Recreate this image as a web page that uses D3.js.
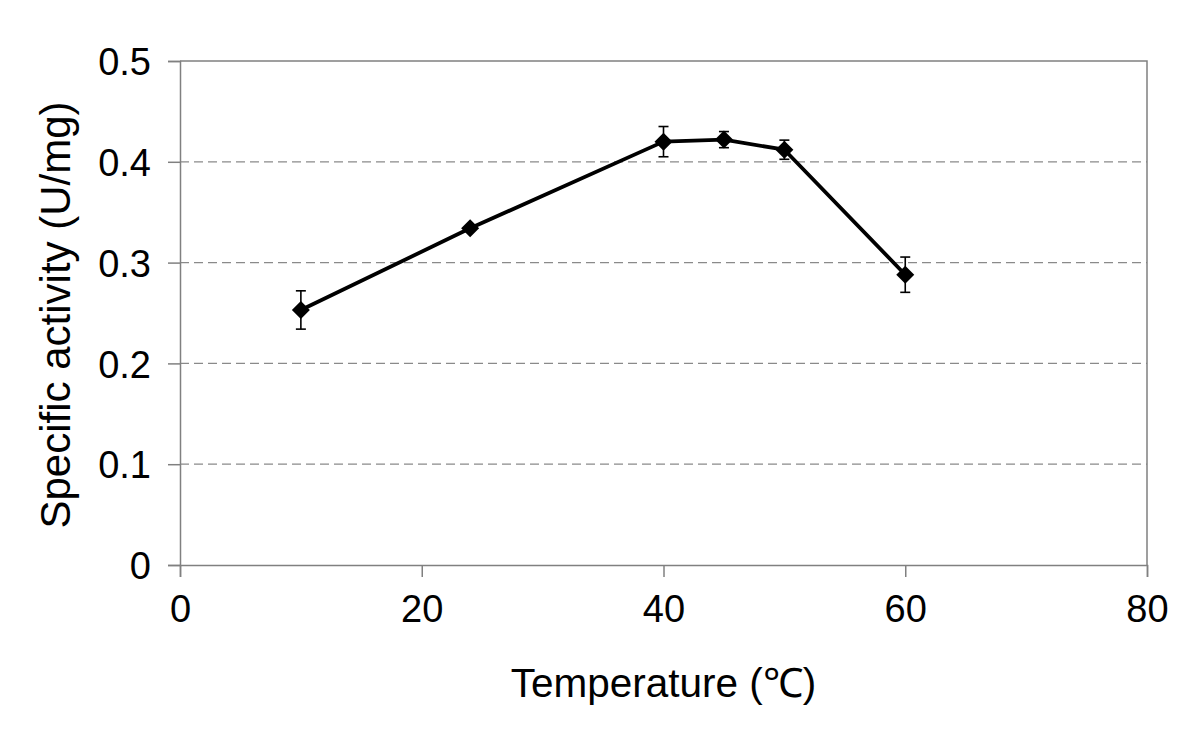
<!DOCTYPE html>
<html>
<head>
<meta charset="utf-8">
<script src="https://cdn.jsdelivr.net/npm/d3@7"></script>
<style>
  body { margin: 0; background: #fff; }
  svg { display: block; font-family: "Liberation Sans", Arial, Helvetica, sans-serif; }
</style>
</head>
<body>
<div class="chart"></div>
<script>
// data
const temps = [10, 24, 40, 45, 50, 60];
const activity = [0.253, 0.334, 0.420, 0.422, 0.412, 0.288];
const errors = [0.019, 0, 0.015, 0.008, 0.0095, 0.0175];
const xTicks = [0, 20, 40, 60, 80];
const yTicks = [0, 0.1, 0.2, 0.3, 0.4, 0.5];

const width = 1200, height = 738;
const margin = {top: 61, right: 53, bottom: 173, left: 180};

const svg = d3.select(".chart")
  .append("svg")
  .attr("width", width)
  .attr("height", height);

const x = d3.scaleLinear().domain([0, 80]).range([margin.left, width - margin.right]);
const y = d3.scaleLinear().domain([0, 0.5]).range([height - margin.bottom, margin.top]);

const data = temps.map((t, i) => ({t: t, v: activity[i], e: errors[i]}));

// dashed gridlines
svg.append("g")
  .selectAll("line")
  .data(yTicks.filter(d => d > 0 && d < 0.5))
  .join("line")
    .attr("x1", x(0)).attr("x2", x(80))
    .attr("y1", d => y(d)).attr("y2", d => y(d))
    .attr("stroke", "#8a8a8a")
    .attr("stroke-width", 1.2)
    .attr("stroke-dasharray", "9,5");

// border top/right
svg.append("path")
  .attr("d", `M${x(0)},${y(0.5)}H${x(80)}V${y(0)}`)
  .attr("fill", "none")
  .attr("stroke", "#808080")
  .attr("stroke-width", 1.5);

// axes
const xAxis = svg.append("g")
  .attr("transform", `translate(0,${y(0)})`)
  .call(d3.axisBottom(x).tickValues(xTicks).tickSize(12).tickPadding(18).tickFormat(d3.format("d")));

const yAxis = svg.append("g")
  .attr("transform", `translate(${x(0)},0)`)
  .call(d3.axisLeft(y).tickValues(yTicks).tickSize(12).tickPadding(17).tickFormat(d => d === 0 ? "0" : d3.format(".1f")(d)));

[xAxis, yAxis].forEach(g => {
  g.select(".domain").attr("stroke", "#808080").attr("stroke-width", 1.5);
  g.selectAll(".tick line").attr("stroke", "#808080").attr("stroke-width", 1.5);
  g.selectAll(".tick text")
    .attr("fill", "#000")
    .style("font-family", "'Liberation Sans', Arial, sans-serif")
    .style("font-size", "38px");
});
xAxis.selectAll(".tick text").attr("dy", "0.71em");
yAxis.selectAll(".tick text").attr("dy", "0.36em");

// error bars
const eb = svg.append("g").attr("stroke", "#000").attr("stroke-width", 1.6);
data.filter(d => d.e > 0).forEach(d => {
  eb.append("line").attr("x1", x(d.t)).attr("x2", x(d.t)).attr("y1", y(d.v - d.e)).attr("y2", y(d.v + d.e));
  eb.append("line").attr("x1", x(d.t) - 5).attr("x2", x(d.t) + 5).attr("y1", y(d.v + d.e)).attr("y2", y(d.v + d.e));
  eb.append("line").attr("x1", x(d.t) - 5).attr("x2", x(d.t) + 5).attr("y1", y(d.v - d.e)).attr("y2", y(d.v - d.e));
});

// line
svg.append("path")
  .datum(data)
  .attr("fill", "none")
  .attr("stroke", "#000")
  .attr("stroke-width", 3.8)
  .attr("stroke-linejoin", "round")
  .attr("d", d3.line().x(d => x(d.t)).y(d => y(d.v)));

// diamond markers
svg.append("g")
  .selectAll("path")
  .data(data)
  .join("path")
    .attr("transform", d => `translate(${x(d.t)},${y(d.v)})`)
    .attr("d", "M0,-9L9,0L0,9L-9,0Z")
    .attr("fill", "#000");

// axis titles
svg.append("text")
  .attr("x", (x(0) + x(80)) / 2)
  .attr("y", 697)
  .attr("text-anchor", "middle")
  .style("font-size", "40.5px")
  .text("Temperature (℃)");

svg.append("text")
  .attr("transform", `translate(70,${(y(0) + y(0.5)) / 2 + 2}) rotate(-90)`)
  .attr("text-anchor", "middle")
  .style("font-size", "42px")
  .text("Specific activity (U/mg)");
</script>
</body>
</html>
